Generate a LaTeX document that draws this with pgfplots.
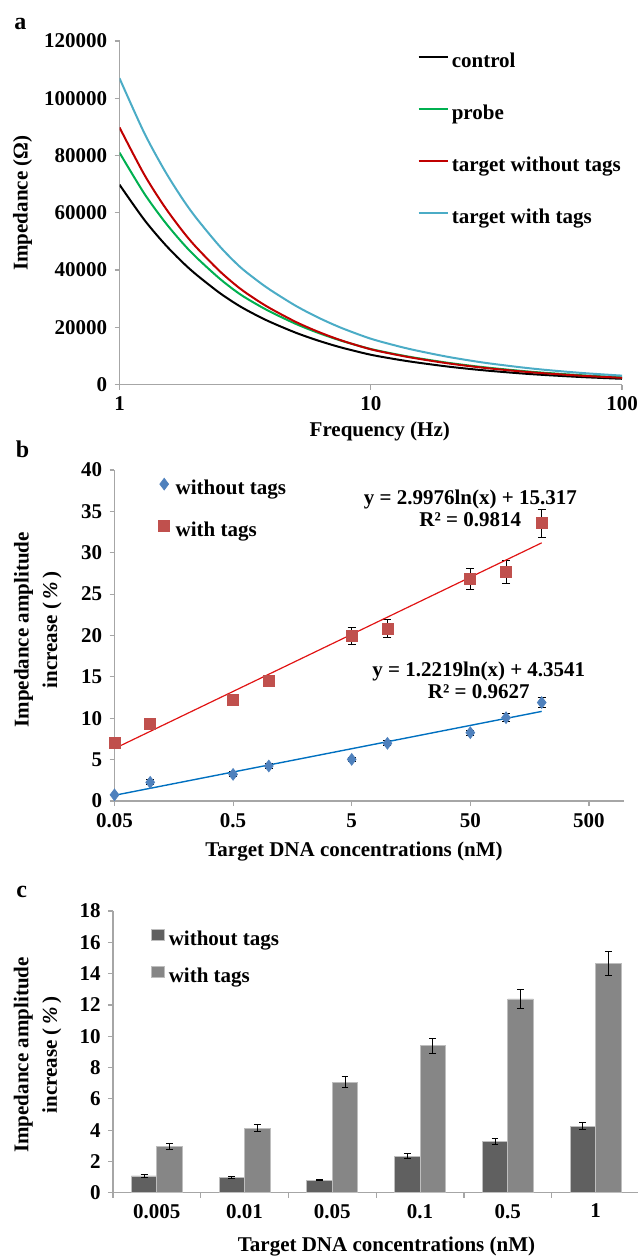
\documentclass[border=0pt]{standalone}
\usepackage{fontspec}
\setmainfont{Liberation Serif}
\usepackage{pgfplots}
\pgfplotsset{compat=1.18}

\definecolor{axisgray}{RGB}{166,166,166}
\definecolor{cprobe}{RGB}{0,176,80}
\definecolor{cred}{RGB}{192,0,0}
\definecolor{caqua}{RGB}{75,172,198}
\definecolor{mblue}{RGB}{79,129,189}
\definecolor{mred}{RGB}{192,80,77}
\definecolor{tred}{RGB}{225,20,20}
\definecolor{tblue}{RGB}{0,112,192}
\definecolor{bardark}{RGB}{96,96,96}
\definecolor{barlight}{RGB}{134,134,134}
\definecolor{barline}{RGB}{190,190,190}

\newcommand{\lblfont}{\fontsize{10.5}{12.6}\selectfont\bfseries}

\pgfplotsset{
  excel/.style={
    scale only axis,
    axis lines=left,
    axis line style={-, draw=axisgray, line width=0.6pt},
    tick style={draw=axisgray, line width=0.6pt},
    tick align=outside,
    major tick length=2.5pt,
    minor tick length=0pt,
    /pgf/number format/assume math mode=true,
    tick label style={font=\lblfont},
    label style={font=\lblfont, anchor=center},
    legend style={draw=none, fill=none, font=\lblfont, inner sep=0pt,
      column sep=1pt, anchor=north west,
      nodes={inner sep=0.5pt, text height=7.5pt, text depth=2.5pt}},
    legend cell align=left,
  },
}

\begin{document}
\lblfont
\begin{tikzpicture}
\path[use as bounding box] (0pt,0pt) rectangle (319pt,-628pt);

% panel letters
\node[anchor=base west, inner sep=0pt, font=\fontsize{12}{14}\selectfont\bfseries] at (7pt,-15pt) {a};
\node[anchor=base west, inner sep=0pt, font=\fontsize{12}{14}\selectfont\bfseries] at (7.75pt,-228.65pt) {b};
\node[anchor=base west, inner sep=0pt, font=\fontsize{12}{14}\selectfont\bfseries] at (8pt,-448.65pt) {c};

% ---- a: impedance spectra
\begin{axis}[excel,
  at={(59.75pt,-192.25pt)}, anchor=south west,
  width=251.25pt, height=171.75pt,
  xmode=log, xmin=1, xmax=100,
  xtick={1,10,100}, xticklabels={1,10,100},
  ymin=0, ymax=120000, ytick={0,20000,...,120000},
  scaled y ticks=false,
  yticklabel style={/pgf/number format/.cd, fixed, 1000 sep={}},
  xlabel={Frequency (Hz)},
  xlabel style={at={(axis description cs:0.518,-0.138)}},
  ylabel={Impedance (Ω)},
  ylabel style={at={(axis description cs:-0.193,0.528)}},
  legend style={at={(axis description cs:0.592,0.972)}, row sep=15pt},
  legend image code/.code={\draw[#1, line width=1.2pt] (0pt,2.6pt) -- (14.5pt,2.6pt);},
]
\addplot[black, line width=1pt, smooth] coordinates {
  (1,69800) (1.25,57740) (1.5,49440) (1.75,43370) (2,38730) (2.5,32030)
  (3,27440) (3.5,24230) (4,21760) (5,18180) (6,15700) (7,13860) (8,12450)
  (10,10400) (12.5,8860) (15,7780) (20,6330) (25,5400) (30,4740) (40,3850)
  (50,3290) (70,2580) (100,2000)};
\addlegendentry{control}
\addplot[cprobe, line width=1pt, smooth] coordinates {
  (1,81000) (1.25,66950) (1.5,57290) (1.75,50230) (2,44820) (2.5,37040)
  (3,31700) (3.5,28110) (4,25330) (5,21280) (6,18460) (7,16370) (8,14750)
  (10,12400) (12.5,10620) (15,9350) (20,7660) (25,6560) (30,5780) (40,4730)
  (50,4050) (70,3200) (100,2500)};
\addlegendentry{probe}
\addplot[cred, line width=1pt, smooth] coordinates {
  (1,89800) (1.25,73590) (1.5,62550) (1.75,54510) (2,48380) (2.5,39660)
  (3,33700) (3.5,29620) (4,26490) (5,21980) (6,18870) (7,16580) (8,14830)
  (10,12300) (12.5,10480) (15,9190) (20,7470) (25,6370) (30,5580) (40,4540)
  (50,3870) (70,3040) (100,2350)};
\addlegendentry{target without tags}
\addplot[caqua, line width=1pt, smooth] coordinates {
  (1,107000) (1.25,88190) (1.5,75300) (1.75,65880) (2,58680) (2.5,48360)
  (3,41300) (3.5,36580) (4,32930) (5,27620) (6,23930) (7,21190) (8,19080)
  (10,16000) (12.5,13650) (15,11980) (20,9760) (25,8330) (30,7310) (40,5960)
  (50,5080) (70,4000) (100,3100)};
\addlegendentry{target with tags}
\end{axis}

% ---- b: concentration dependence
\begin{axis}[excel,
  at={(57.25pt,-400.5pt)}, anchor=south west,
  width=254.75pt, height=165.5pt,
  xmode=log, xmin=0.05, xmax=988,
  xtick={0.05,0.5,5,50,500}, xticklabels={0.05,0.5,5,50,500},
  ymin=0, ymax=40, ytick={0,5,...,40},
  xlabel={Target DNA concentrations (nM)},
  xlabel style={at={(axis description cs:0.47,-0.154)}},
  ylabel={Impedance amplitude\\increase (\,\textit{\%}\,)},
  ylabel style={at={(axis description cs:-0.1506,0.517)}, align=center,
    font=\fontsize{10.5}{14.25}\selectfont\bfseries},
  legend style={at={(axis description cs:0.086,0.976)}, row sep=10pt, column sep=2.5pt},
  legend image code/.code={\draw[#1] plot[only marks] coordinates {(2.75pt,2.6pt)};},
]
\addplot[only marks, mark=diamond*, mark size=2.9pt, color=mblue,
  error bars/.cd, y dir=both, y explicit,
  error bar style={black, line width=0.5pt},
  error mark options={rotate=90, black, mark size=2pt, line width=0.5pt}]
  coordinates {
  (0.05,0.75) +- (0,0.2) (0.1,2.26) +- (0,0.3) (0.5,3.22) +- (0,0.3)
  (1,4.23) +- (0,0.3) (5,5.03) +- (0,0.2) (10,6.97) +- (0,0.3)
  (50,8.26) +- (0,0.3) (100,10.07) +- (0,0.5) (200,11.9) +- (0,0.65)};
\addlegendentry{without tags}
\addplot[only marks, mark=square*, mark size=2.75pt, color=mred,
  error bars/.cd, y dir=both, y explicit,
  error bar style={black, line width=0.5pt},
  error mark options={rotate=90, black, mark size=2pt, line width=0.5pt}]
  coordinates {
  (0.05,7.05) +- (0,0.3) (0.1,9.3) +- (0,0.3) (0.5,12.2) +- (0,0.6)
  (1,14.5) +- (0,0.7) (5,19.95) +- (0,1.0) (10,20.85) +- (0,1.08)
  (50,26.85) +- (0,1.3) (100,27.7) +- (0,1.37) (200,33.55) +- (0,1.7)};
\addlegendentry{with tags}
% logarithmic trend lines (straight on the log axis)
\addplot[tred, line width=0.6pt, forget plot] coordinates {(0.05,6.34) (200,31.20)};
\addplot[tblue, line width=0.7pt, forget plot] coordinates {(0.05,0.69) (200,10.83)};
\node[align=center, font=\fontsize{10.5}{11}\selectfont\bfseries] at (axis cs:50,35.4)
  {y = 2.9976ln(x) + 15.317\\R² = 0.9814};
\node[align=center, font=\fontsize{10.5}{11}\selectfont\bfseries] at (axis cs:58.9,14.56)
  {y = 1.2219ln(x) + 4.3541\\R² = 0.9627};
\end{axis}

% ---- c: low concentrations
\begin{axis}[excel,
  at={(56.475pt,-596.35pt)}, anchor=south west,
  width=262.5pt, height=140.85pt,
  ybar=0pt, bar width=0.29,
  xmin=-0.5, xmax=5.483, ymin=0, ymax=18, ytick={0,2,...,18},
  xtick={-0.5,0.5,...,5.5}, xticklabels={},
  extra x ticks={0,1,2,3,4,5},
  extra x tick labels={0.005,0.01,0.05,0.1,0.5,1},
  extra x tick style={major tick length=0pt, xticklabel style={yshift=-2pt}},
  xlabel={Target DNA concentrations (nM)},
  xlabel style={at={(axis description cs:0.521,-0.19)}},
  ylabel={Impedance amplitude\\increase (\,\textit{\%}\,)},
  ylabel style={at={(axis description cs:-0.1437,0.489)}, align=center,
    font=\fontsize{10.5}{14.25}\selectfont\bfseries},
  legend style={at={(axis description cs:0.0725,0.936)}, row sep=7.5pt, column sep=1.5pt},
  legend image code/.code={\draw[#1] (0pt,-0.2pt) rectangle (6.3pt,5.3pt);},
]
\addplot[fill=bardark, draw=barline, line width=0.4pt,
  error bars/.cd, y dir=both, y explicit,
  error bar style={black, line width=0.5pt},
  error mark options={rotate=90, black, mark size=1.7pt, line width=0.5pt}]
  coordinates {
  (0,1.07) +- (0,0.07) (1,0.98) +- (0,0.06) (2,0.81) +- (0,0.06)
  (3,2.34) +- (0,0.17) (4,3.26) +- (0,0.21) (5,4.26) +- (0,0.21)};
\addlegendentry{without tags}
\addplot[fill=barlight, draw=barline, line width=0.4pt,
  error bars/.cd, y dir=both, y explicit,
  error bar style={black, line width=0.5pt},
  error mark options={rotate=90, black, mark size=1.7pt, line width=0.5pt}]
  coordinates {
  (0,2.98) +- (0,0.19) (1,4.11) +- (0,0.22) (2,7.05) +- (0,0.35)
  (3,9.39) +- (0,0.47) (4,12.38) +- (0,0.62) (5,14.66) +- (0,0.75)};
\addlegendentry{with tags}
\end{axis}
\end{tikzpicture}
\end{document}
